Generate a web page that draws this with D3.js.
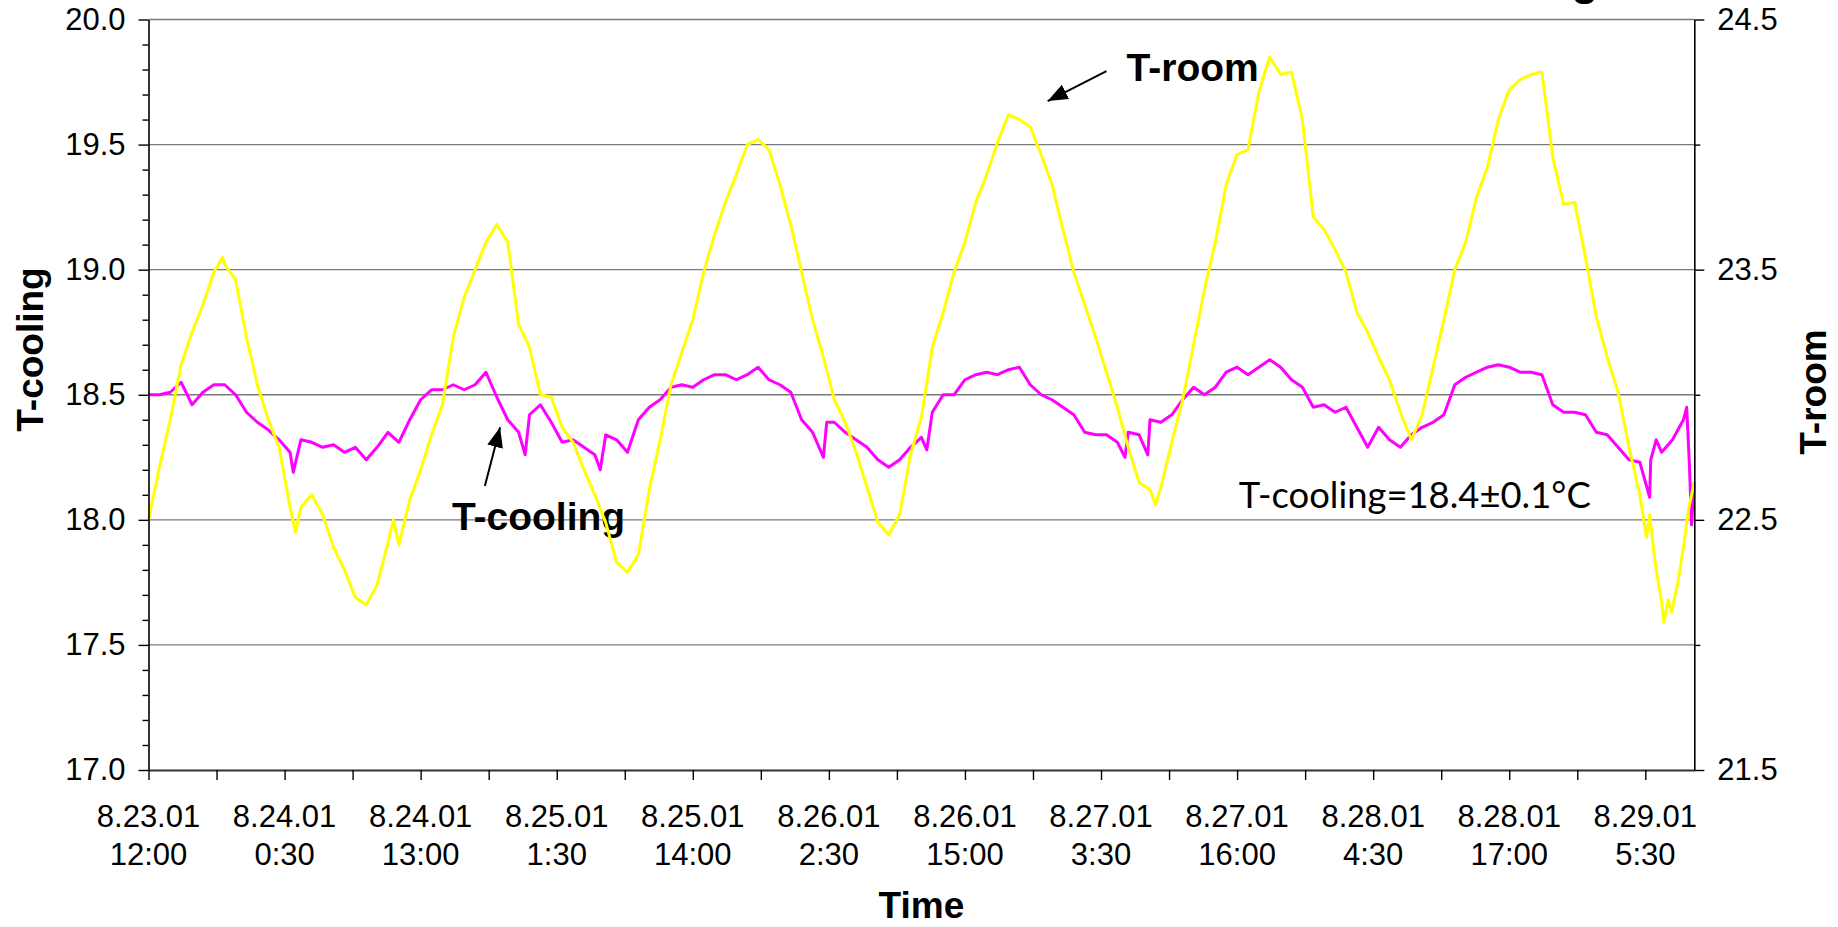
<!DOCTYPE html>
<html>
<head>
<meta charset="utf-8">
<script src="https://cdn.jsdelivr.net/npm/d3@7/dist/d3.min.js"></script>
<style>
  body { margin: 0; background: #fff; }
  svg { display: block; font-family: "Liberation Sans", Arial, sans-serif; }
</style>
</head>
<body>
<svg id="chart" width="1838" height="927"></svg>
<script>
// x-axis labels (two lines per tick)
var xLabelDates = ['8.23.01', '8.24.01', '8.24.01', '8.25.01', '8.25.01', '8.26.01',
  '8.26.01', '8.27.01', '8.27.01', '8.28.01', '8.28.01', '8.29.01'];
var xLabelTimes = ['12:00', '0:30', '13:00', '1:30', '14:00', '2:30',
  '15:00', '3:30', '16:00', '4:30', '17:00', '5:30'];

var coolingTicks = [17.0, 17.5, 18.0, 18.5, 19.0, 19.5, 20.0];
var roomTicks = [21.5, 22.5, 23.5, 24.5];

var startLabel = '8.23.01 12:00';
var spanHours = 142;

// [hours since start, T-cooling]
var coolingSeries = [
  [0, 18.50], [1, 18.50], [2, 18.51], [3, 18.55], [4, 18.46], [5, 18.51], [6, 18.54], [7, 18.54],
  [8, 18.50], [9, 18.43], [10, 18.39], [11, 18.36], [12, 18.32], [13, 18.27], [13.3, 18.19], [14, 18.32],
  [15, 18.31], [16, 18.29], [17, 18.30], [18, 18.27], [19, 18.29], [20, 18.24], [21, 18.29], [22, 18.35],
  [23, 18.31], [24, 18.40], [25, 18.48], [26, 18.52], [27, 18.52], [28, 18.54], [29, 18.52], [30, 18.54],
  [31, 18.59], [32, 18.49], [33, 18.40], [34, 18.35], [34.6, 18.26], [35, 18.42], [36, 18.46], [37, 18.39],
  [38, 18.31], [39, 18.32], [40, 18.29], [41, 18.26], [41.5, 18.20], [42, 18.34], [43, 18.32], [44, 18.27],
  [45, 18.40], [46, 18.45], [47, 18.48], [48, 18.53], [49, 18.54], [50, 18.53], [51, 18.56], [52, 18.58],
  [53, 18.58], [54, 18.56], [55, 18.58], [56, 18.61], [57, 18.56], [58, 18.54], [59, 18.51], [60, 18.40],
  [61, 18.35], [62, 18.25], [62.3, 18.39], [63, 18.39], [64, 18.35], [65, 18.32], [66, 18.29], [67, 18.24],
  [68, 18.21], [69, 18.24], [70, 18.29], [71, 18.33], [71.5, 18.28], [72, 18.43], [73, 18.50], [74, 18.50],
  [75, 18.56], [76, 18.58], [77, 18.59], [78, 18.58], [79, 18.60], [80, 18.61], [81, 18.54], [82, 18.50],
  [83, 18.48], [84, 18.45], [85, 18.42], [86, 18.35], [87, 18.34], [88, 18.34], [89, 18.31], [89.7, 18.25],
  [90, 18.35], [91, 18.34], [91.8, 18.26], [92, 18.40], [93, 18.39], [94, 18.42], [95, 18.48], [96, 18.53],
  [97, 18.50], [98, 18.53], [99, 18.59], [100, 18.61], [101, 18.58], [102, 18.61], [103, 18.64], [104, 18.61],
  [105, 18.56], [106, 18.53], [107, 18.45], [108, 18.46], [109, 18.43], [110, 18.45], [111, 18.37], [112, 18.29],
  [113, 18.37], [114, 18.32], [115, 18.29], [116, 18.34], [117, 18.37], [118, 18.39], [119, 18.42], [120, 18.54],
  [121, 18.57], [122, 18.59], [123, 18.61], [124, 18.62], [125, 18.61], [126, 18.59], [127, 18.59], [128, 18.58],
  [129, 18.46], [130, 18.43], [131, 18.43], [132, 18.42], [133, 18.35], [134, 18.34], [135, 18.29], [136, 18.24],
  [137, 18.23], [137.9, 18.09], [138, 18.24], [138.5, 18.32], [139, 18.27], [140, 18.32], [141, 18.40], [141.3, 18.45],
  [141.55, 18.22], [141.75, 17.98], [142, 18.15]
];

// [hours since start, T-room]
var roomSeries = [
  [0, 22.50], [1, 22.71], [2, 22.90], [3, 23.12], [4, 23.25], [5, 23.36], [6, 23.49], [6.8, 23.55],
  [7, 23.52], [8, 23.46], [9, 23.23], [10, 23.04], [11, 22.90], [12, 22.79], [13, 22.55], [13.5, 22.45],
  [14, 22.55], [15, 22.60], [16, 22.52], [17, 22.39], [18, 22.30], [19, 22.19], [20, 22.16], [21, 22.24],
  [22, 22.41], [22.5, 22.50], [23, 22.40], [24, 22.58], [25, 22.70], [26, 22.84], [27, 22.96], [28, 23.23],
  [29, 23.39], [30, 23.50], [31, 23.61], [32, 23.68], [33, 23.61], [34, 23.28], [35, 23.19], [36, 23.00],
  [37, 22.99], [38, 22.87], [39, 22.81], [40, 22.70], [41, 22.60], [42, 22.49], [43, 22.33], [44, 22.29],
  [45, 22.36], [46, 22.62], [47, 22.82], [48, 23.04], [49, 23.17], [50, 23.30], [51, 23.49], [52, 23.64],
  [53, 23.77], [54, 23.88], [55, 24.00], [56, 24.02], [57, 23.98], [58, 23.84], [59, 23.68], [60, 23.49],
  [61, 23.30], [62, 23.15], [63, 22.98], [64, 22.89], [65, 22.77], [66, 22.63], [67, 22.49], [68, 22.44],
  [69, 22.52], [70, 22.76], [71, 22.91], [72, 23.19], [73, 23.33], [74, 23.49], [75, 23.61], [76, 23.77],
  [77, 23.88], [78, 24.01], [79, 24.12], [80, 24.10], [81, 24.07], [82, 23.96], [83, 23.84], [84, 23.66],
  [85, 23.49], [86, 23.36], [87, 23.23], [88, 23.09], [89, 22.95], [90, 22.79], [91, 22.65], [92, 22.62],
  [92.5, 22.56], [93, 22.63], [94, 22.81], [95, 22.98], [96, 23.20], [97, 23.42], [98, 23.61], [99, 23.84],
  [100, 23.96], [101, 23.98], [102, 24.21], [103, 24.35], [104, 24.28], [105, 24.29], [106, 24.10], [107, 23.71],
  [108, 23.66], [109, 23.58], [110, 23.49], [111, 23.33], [112, 23.25], [113, 23.15], [114, 23.06], [115, 22.93],
  [116, 22.82], [117, 22.92], [118, 23.11], [119, 23.30], [120, 23.50], [121, 23.61], [122, 23.79], [123, 23.91],
  [124, 24.10], [125, 24.22], [126, 24.26], [127, 24.28], [128, 24.29], [129, 23.95], [130, 23.76], [131, 23.77],
  [132, 23.55], [133, 23.31], [134, 23.15], [135, 23.01], [136, 22.79], [137, 22.60], [137.6, 22.43], [137.9, 22.52],
  [138.4, 22.33], [139, 22.17], [139.2, 22.09], [139.6, 22.18], [139.9, 22.13], [140.5, 22.25], [141, 22.39], [141.5, 22.55],
  [142, 22.65]
];

var margins = { top: 19.5, right: 143.7, bottom: 157, left: 148.5 };
var width = 1838;
var height = 927;
var chartWidth = width - margins.left - margins.right;
var chartHeight = height - margins.top - margins.bottom;

var parseLabel = d3.timeParse('%m.%d.%y %H:%M');
var start = parseLabel(startLabel);
var atHour = h => new Date(start.getTime() + h * 3600e3);

var x = d3.scaleTime().domain([start, atHour(spanHours)]).range([0, chartWidth]);
var yCool = d3.scaleLinear().domain([17, 20]).range([chartHeight, 0]);
var yRoom = d3.scaleLinear().domain([21.5, 24.5]).range([chartHeight, 0]);

var svg = d3.select('#chart');
var chart = svg.append('g').attr('transform', `translate(${margins.left},${margins.top})`);

// part of a title cut off at the top edge
svg.append('text')
  .attr('x', 1585).attr('y', -5)
  .attr('text-anchor', 'middle')
  .attr('font-weight', 'bold')
  .attr('font-size', 44)
  .text('g');

// gridlines
chart.append('g')
  .selectAll('line')
  .data(coolingTicks.filter(d => d > 17))
  .enter()
  .append('line')
  .attr('x1', 0).attr('x2', chartWidth)
  .attr('y1', d => yCool(d)).attr('y2', d => yCool(d))
  .attr('stroke', '#7a7a7a')
  .attr('stroke-width', 1.4);

// annotations
var defs = svg.append('defs');
defs.append('marker')
  .attr('id', 'head')
  .attr('markerUnits', 'userSpaceOnUse')
  .attr('markerWidth', 22).attr('markerHeight', 18)
  .attr('refX', 20).attr('refY', 8)
  .attr('orient', 'auto')
  .append('path')
  .attr('d', 'M0,0 L20,8 L0,16 Z')
  .attr('fill', '#000');

var arrows = [
  { from: [30.9, 18.135], to: [32.3, 18.37], scale: yCool },
  { from: [88.0, 24.294], to: [82.6, 24.174], scale: yRoom },
];
chart.selectAll('.arrow')
  .data(arrows)
  .enter()
  .append('line')
  .attr('class', 'arrow')
  .attr('x1', d => x(atHour(d.from[0]))).attr('y1', d => d.scale(d.from[1]))
  .attr('x2', d => x(atHour(d.to[0]))).attr('y2', d => d.scale(d.to[1]))
  .attr('stroke', '#000')
  .attr('stroke-width', 2)
  .attr('marker-end', 'url(#head)');

chart.append('text')
  .attr('x', x(atHour(27.87))).attr('y', yCool(17.96))
  .attr('font-weight', 'bold').attr('font-size', 39)
  .text('T-cooling');

chart.append('text')
  .attr('x', x(atHour(89.85))).attr('y', yRoom(24.254))
  .attr('font-weight', 'bold').attr('font-size', 39)
  .text('T-room');

chart.append('text')
  .attr('x', x(atHour(100.15))).attr('y', yCool(18.047))
  .attr('font-family', '"Comic Sans MS", Lato, "Open Sans", sans-serif')
  .attr('font-size', 36)
  .attr('textLength', 352)
  .attr('lengthAdjust', 'spacingAndGlyphs')
  .text('T-cooling=18.4±0.1°C');

// series
var coolLine = d3.line().x(d => x(atHour(d[0]))).y(d => yCool(d[1]));
var roomLine = d3.line().x(d => x(atHour(d[0]))).y(d => yRoom(d[1]));

chart.append('path')
  .datum(coolingSeries)
  .attr('d', coolLine)
  .attr('fill', 'none')
  .attr('stroke', '#ff00ff')
  .attr('stroke-width', 3)
  .attr('stroke-linejoin', 'round');

chart.append('path')
  .datum(roomSeries)
  .attr('d', roomLine)
  .attr('fill', 'none')
  .attr('stroke', '#ffff00')
  .attr('stroke-width', 3)
  .attr('stroke-linejoin', 'round');

// axes
var styleAxis = function (g) {
  g.attr('font-family', null).attr('font-size', null);
  g.selectAll('text').attr('font-size', 31).attr('fill', '#000');
  g.selectAll('line').attr('stroke', '#000').attr('stroke-width', 1.4);
  g.select('.domain').attr('stroke', '#000').attr('stroke-width', 1.6);
};

var minorCool = d3.range(170, 201).filter(d => d % 5 != 0).map(d => d / 10);
var minorRoom = [22, 23, 24];

chart.append('g')
  .call(d3.axisLeft(yCool).tickValues(minorCool).tickSize(6).tickSizeOuter(0).tickFormat(''))
  .call(g => g.select('.domain').remove())
  .call(styleAxis);
chart.append('g')
  .call(d3.axisLeft(yCool).tickValues(coolingTicks).tickSize(10).tickSizeOuter(0)
    .tickPadding(13).tickFormat(d3.format('.1f')))
  .call(styleAxis);

chart.append('g')
  .attr('transform', `translate(${chartWidth},0)`)
  .call(d3.axisRight(yRoom).tickValues(minorRoom).tickSize(6).tickSizeOuter(0).tickFormat(''))
  .call(g => g.select('.domain').remove())
  .call(styleAxis);
chart.append('g')
  .attr('transform', `translate(${chartWidth},0)`)
  .call(d3.axisRight(yRoom).tickValues(roomTicks).tickSize(10).tickSizeOuter(0)
    .tickPadding(13).tickFormat(d3.format('.1f')))
  .call(styleAxis);

var labelDates = xLabelDates.map((d, i) => parseLabel(d + ' ' + xLabelTimes[i]));
var midDates = d3.pairs(labelDates).map(p => new Date((p[0].getTime() + p[1].getTime()) / 2));

chart.append('g')
  .attr('transform', `translate(0,${chartHeight})`)
  .call(d3.axisBottom(x).tickValues(labelDates.concat(midDates)).tickSize(10)
    .tickSizeOuter(0).tickFormat(''))
  .call(styleAxis)
  .call(g => g.select('.domain').attr('stroke', '#333').attr('stroke-width', 2.2));

var xLabels = chart.append('g')
  .attr('transform', `translate(0,${chartHeight})`)
  .selectAll('text')
  .data(labelDates)
  .enter()
  .append('text')
  .attr('text-anchor', 'middle')
  .attr('font-size', 31)
  .attr('transform', d => `translate(${x(d)},0)`);
xLabels.append('tspan').attr('x', 0).attr('y', 57).text((d, i) => xLabelDates[i]);
xLabels.append('tspan').attr('x', 0).attr('y', 95).text((d, i) => xLabelTimes[i]);

// axis titles
svg.append('text')
  .attr('transform', 'translate(43,349.5) rotate(-90)')
  .attr('text-anchor', 'middle')
  .attr('font-weight', 'bold').attr('font-size', 37)
  .text('T-cooling');

svg.append('text')
  .attr('transform', 'translate(1826,392) rotate(-90)')
  .attr('text-anchor', 'middle')
  .attr('font-weight', 'bold').attr('font-size', 37)
  .text('T-room');

svg.append('text')
  .attr('x', margins.left + chartWidth / 2).attr('y', 918)
  .attr('text-anchor', 'middle')
  .attr('font-weight', 'bold').attr('font-size', 37)
  .text('Time');
</script>
</body>
</html>
